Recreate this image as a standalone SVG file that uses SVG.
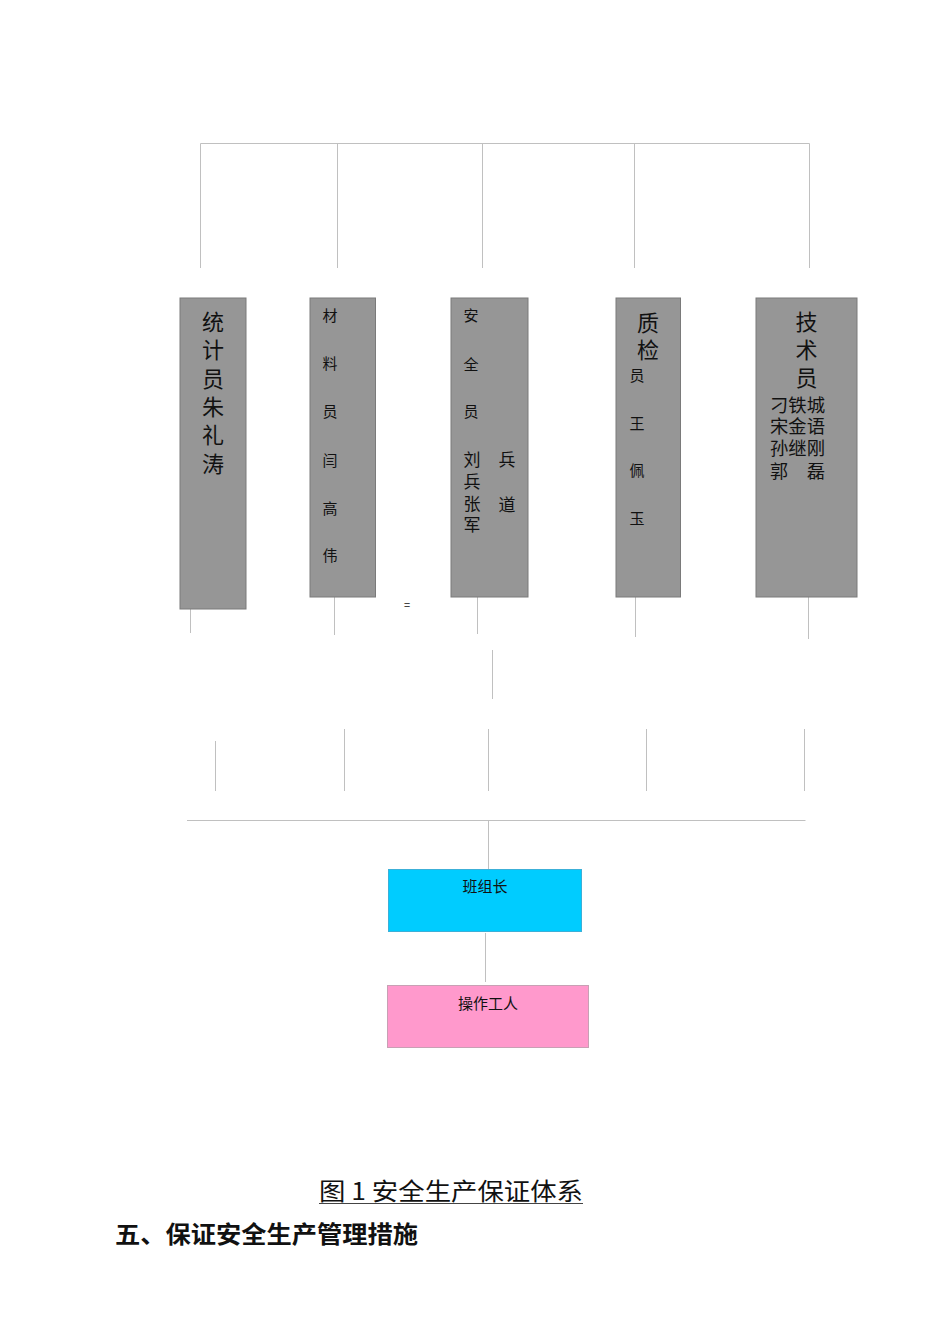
<svg xmlns="http://www.w3.org/2000/svg" width="950" height="1344" viewBox="0 0 950 1344">
<style>
.ln{stroke:#c0c0c0;stroke-width:1;fill:none}
.gbox{fill:#969696;stroke:#7a7a7a;stroke-width:1}
.t{font-family:"Noto Sans CJK SC","Liberation Sans",sans-serif;fill:#111}
.c{text-anchor:middle}
</style>
<rect width="950" height="1344" fill="#fff"/>
<g id="connectors">
<path class="ln" d="M200.5 143.5H809.5M200.5 143.5V268M337.5 143.5V268M482.5 143.5V268M634.5 143.5V268M809.5 143.5V268"/>
<path class="ln" d="M190.5 609V633M334.5 597V635M477.5 597V634M635.5 597V637M808.5 597V639"/>
<path class="ln" d="M492.5 650V699"/>
<path class="ln" d="M215.5 741V791M344.5 729V791M488.5 729V791M646.5 729V791M804.5 729V791"/>
<path class="ln" d="M187 820.5H805.5M488.5 820.5V869"/>
<path class="ln" d="M485.5 933V982"/>
</g>
<g id="node-tongji">
<rect class="gbox" x="180" y="298" width="66" height="311"/>
<text class="t c" font-size="22"><tspan x="213" y="330">统</tspan><tspan x="213" y="358.3">计</tspan><tspan x="213" y="386.6">员</tspan><tspan x="213" y="414.9">朱</tspan><tspan x="213" y="443.2">礼</tspan><tspan x="213" y="471.5">涛</tspan></text>
</g>
<g id="node-cailiao">
<rect class="gbox" x="310" y="298" width="65.5" height="299"/>
<text class="t c" font-size="15"><tspan x="330" y="320.7">材</tspan><tspan x="330" y="368.7">料</tspan><tspan x="330" y="417.2">员</tspan><tspan x="330" y="465.7">闫</tspan><tspan x="330" y="513.7">高</tspan><tspan x="330" y="561.2">伟</tspan></text>
</g>
<text class="t c" font-size="11" x="407" y="609">=</text>
<g id="node-anquan">
<rect class="gbox" x="451" y="298" width="77" height="299"/>
<text class="t c" font-size="15"><tspan x="471" y="320.7">安</tspan><tspan x="471" y="369.7">全</tspan><tspan x="471" y="417.4">员</tspan></text>
<text class="t c" font-size="17"><tspan x="472" y="466.2">刘</tspan><tspan x="472" y="487.9">兵</tspan><tspan x="472" y="509.5">张</tspan><tspan x="472" y="531.2">军</tspan><tspan x="507" y="466.2">兵</tspan><tspan x="507" y="511.2">道</tspan></text>
</g>
<g id="node-zhijian">
<rect class="gbox" x="616" y="298" width="64.5" height="299"/>
<text class="t c" font-size="22"><tspan x="648" y="331">质</tspan><tspan x="648" y="358">检</tspan></text>
<text class="t c" font-size="15"><tspan x="637" y="380.7">员</tspan><tspan x="637" y="428.7">王</tspan><tspan x="637" y="475.7">佩</tspan><tspan x="637" y="523.7">玉</tspan></text>
</g>
<g id="node-jishu">
<rect class="gbox" x="756" y="298" width="101" height="299"/>
<text class="t c" font-size="22"><tspan x="806.5" y="330">技</tspan><tspan x="806.5" y="358.2">术</tspan><tspan x="806.5" y="386.2">员</tspan></text>
<text class="t" font-size="18" textLength="55" lengthAdjust="spacingAndGlyphs" x="770" y="411.5">刁铁城</text>
<text class="t" font-size="18" textLength="55" lengthAdjust="spacingAndGlyphs" x="770" y="433.2">宋金语</text>
<text class="t" font-size="18" textLength="55" lengthAdjust="spacingAndGlyphs" x="770" y="454.8">孙继刚</text>
<text class="t" font-size="18"><tspan x="770" y="478.2">郭</tspan><tspan x="807" y="478.2">磊</tspan></text>
</g>
<g id="node-banzuzhang">
<rect x="388.5" y="869.5" width="193" height="62" fill="#00ccff" stroke="#3cb0d8" stroke-width="1"/>
<text class="t c" font-size="15" x="485" y="891.5">班组长</text>
</g>
<g id="node-caozuo">
<rect x="387.5" y="985.5" width="201" height="62" fill="#ff99cc" stroke="#c8a0b4" stroke-width="1"/>
<text class="t c" font-size="15" x="488" y="1008.5">操作工人</text>
</g>
<g id="caption">
<text class="t" font-size="24" x="319" y="1200" textLength="264" lengthAdjust="spacingAndGlyphs" fill="#333">图 1 安全生产保证体系</text>
<line x1="319" y1="1203.5" x2="583" y2="1203.5" stroke="#444" stroke-width="1"/>
<text class="t" font-size="24" font-weight="bold" x="115" y="1243" textLength="303" lengthAdjust="spacingAndGlyphs" fill="#000">五、保证安全生产管理措施</text>
</g>
</svg>
